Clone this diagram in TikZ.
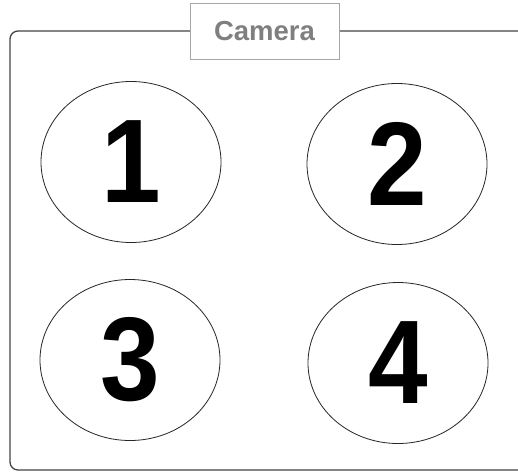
\documentclass[tikz,border=0pt]{standalone}
\usepackage{fontspec}
\setmainfont{Liberation Sans}
\newfontfamily\zonefont[FakeStretch=0.9]{Liberation Sans}
\usetikzlibrary{shapes.geometric, positioning}
\definecolor{framegray}{HTML}{444444}
\definecolor{titlegray}{HTML}{7F7F7F}
\tikzset{
    zone_ellipse/.style={
        ellipse, draw=black!85, line width=0.8pt, fill=white,
        minimum width=180pt, minimum height=161pt, inner sep=0pt,
        font=\zonefont\fontsize{119}{119}\selectfont\bfseries
    },
    title_box/.style={
        rectangle, draw=gray!70, line width=0.8pt, fill=white,
        minimum width=149pt, minimum height=56pt,
        font=\fontsize{27.5}{27.5}\selectfont\bfseries, text=titlegray
    },
    frame_line/.style={
        draw=framegray, line width=1.3pt, rounded corners=8pt
    }
}
\begin{document}
\begin{tikzpicture}[x=1pt, y=-1pt]

    \useasboundingbox (0,0) rectangle (518,474);
    \clip (0,0) rectangle (518,474);
    \fill[white] (0,0) rectangle (518,474);

    \draw[frame_line] (10,31) rectangle (540,470);

    \node[title_box] (title) at (264.5,31) {Camera};

    \node[zone_ellipse] (zone1) at (131,162) {1};
    \node[zone_ellipse] (zone2) at (397,164) {2};
    \node[zone_ellipse] (zone3) at (130,360) {3};
    \node[zone_ellipse] (zone4) at (398,363) {4};

\end{tikzpicture}
\end{document}
